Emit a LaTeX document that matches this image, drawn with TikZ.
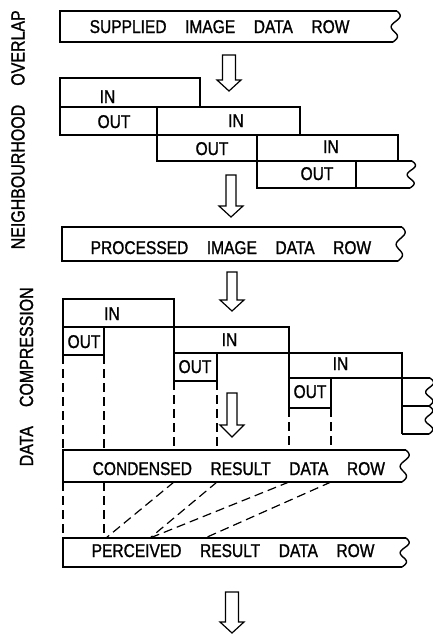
\documentclass[tikz,border=0pt]{standalone}
\usepackage{fontspec}
\newfontfamily\dia[FakeStretch=0.84,FakeBold=1.2,WordSpace=4.3]{Liberation Sans}
\newcommand\squig[4]{\draw plot[domain=0:1,samples=40,smooth] ({#1+(#3-#1)*\x+3.8*sin(540*\x)},{#2+(#4-#2)*\x});}
\newcommand\holarrow[5]{\draw[arr] (#1-#5,#2) -- (#1+#5,#2) -- (#1+#5,#3) -- (#1+12,#3) -- (#1,#4) -- (#1-12,#3) -- (#1-#5,#3) -- cycle;}
\begin{document}
\begin{tikzpicture}[x=1pt,y=-1pt,line width=1.4pt,
  lbl/.style={font=\dia\fontsize{18.5}{20}\selectfont,inner sep=0pt},
  cl/.style={lbl,anchor=base},
  side/.style={font=\dia\fontsize{19}{21}\selectfont,inner sep=0pt,rotate=90,anchor=base west},
  dsh/.style={line width=1.2pt,dash pattern=on 9pt off 5pt},
  arr/.style={line width=1.2pt,line join=miter}]
\useasboundingbox (0,0) rectangle (433,635);

% side labels
\node[side] (nbh) at (24.5,250) {NEIGHBOURHOOD OVERLAP};
\node[side] (dc) at (33,467) {DATA COMPRESSION};

% supplied bar
\draw (397,11) -- (60,11) -- (60,42) -- (393,42);
\squig{397}{11}{393}{42}
\node[lbl,anchor=base west] (supplied) at (89,33) {SUPPLIED IMAGE DATA ROW};

\holarrow{229}{55}{80}{91}{6.5}

% neighbourhood overlap
\draw (60,78) rectangle (200,107);
\draw (60,107) rectangle (157,135);
\draw (157,107) rectangle (300,135);
\draw (157,135) rectangle (257,161);
\draw (257,135) rectangle (398,161);
\draw (257,161) rectangle (356,188);
\draw (398,161) -- (412,161);
\draw (356,188) -- (410,188);
\squig{412}{161}{410}{188}
\node[cl] (in1) at (107.5,103) {IN};
\node[cl] (out1) at (114,128) {OUT};
\node[cl] (in2) at (236,127) {IN};
\node[cl] (out2) at (212,155) {OUT};
\node[cl] (in3) at (331,153) {IN};
\node[cl] (out3) at (317,180) {OUT};

\holarrow{231}{175}{206}{217}{5}

% processed bar
\draw (402,227) -- (62,227) -- (62,261) -- (398,261);
\squig{402}{227}{398}{261}
\node[lbl,anchor=base west] (processed) at (90,254) {PROCESSED IMAGE DATA ROW};

\holarrow{232}{272}{300}{311}{5}

% data compression
\draw (63,299) rectangle (174,327);
\draw (63,327) rectangle (104,355);
\draw (174,327) rectangle (289,353);
\draw (174,353) rectangle (217,381);
\draw (289,353) rectangle (402,378);
\draw (289,378) rectangle (331,408);
\draw (402,378) -- (430,378);
\draw (402,378) -- (402,434);
\draw (402,406) -- (429,406);
\draw (402,434) -- (429,434);
\squig{430}{378}{429}{406}
\squig{429}{406}{429}{434}
\node[cl] (inA) at (112,320) {IN};
\node[cl] (outA) at (84,348) {OUT};
\node[cl] (inB) at (229.5,346) {IN};
\node[cl] (outB) at (195,373) {OUT};
\node[cl] (inC) at (340.5,370) {IN};
\node[cl] (outC) at (310,398) {OUT};

\draw[dsh] (63,355) -- (63,450);
\draw[dsh] (104,355) -- (104,450);
\draw[dsh] (174,381) -- (174,450);
\draw[dsh] (217,381) -- (217,450);
\draw[dsh] (289,408) -- (289,450);
\draw[dsh] (331,408) -- (331,450);

\holarrow{232}{393}{425}{437}{5}

% condensed bar
\draw (406,450) -- (63,450) -- (63,482) -- (402,482);
\squig{406}{450}{402}{482}
\node[lbl,anchor=base west] (condensed) at (92,475) {CONDENSED RESULT DATA ROW};

\draw[dsh] (63,482) -- (63,538);
\draw[dsh] (104,482) -- (104,538);
\draw[dsh] (174,482) -- (106,538);
\draw[dsh] (217,482) -- (150,538);
\draw[dsh] (289,482) -- (150,538);
\draw[dsh] (331,482) -- (205,538);

% perceived bar
\draw (406,538) -- (63,538) -- (63,567) -- (402,567);
\squig{406}{538}{402}{567}
\node[lbl,anchor=base west] (perceived) at (91,557) {PERCEIVED RESULT DATA ROW};

\holarrow{232}{592}{622}{633}{6.5}
\end{tikzpicture}
\end{document}
